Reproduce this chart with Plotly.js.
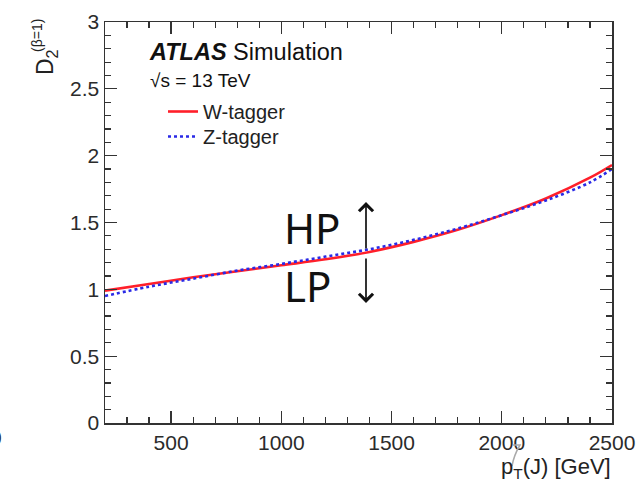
<!DOCTYPE html>
<html>
<head>
<meta charset="utf-8">
<script src="https://cdn.plot.ly/plotly-3.0.1.min.js"></script>
<style>html,body{margin:0;padding:0;background:#fff;}#chart{width:641px;height:484px;}</style>
</head>
<body>
<div id="chart"></div>
<script>
// Data
const ptValues = [200, 400, 600, 800, 1000, 1200, 1400, 1600, 1800, 2000, 2200, 2400, 2500];
const wTagger  = [0.99, 1.04, 1.09, 1.135, 1.18, 1.225, 1.28, 1.355, 1.445, 1.555, 1.68, 1.835, 1.93];
const zTagger  = [0.95, 1.02, 1.08, 1.14, 1.19, 1.245, 1.30, 1.37, 1.455, 1.555, 1.665, 1.80, 1.90];
const seriesNames = ["W-tagger", "Z-tagger"];
const xRange = [200, 2500];
const yRange = [0, 3];

// Layout geometry helpers (pixel -> paper)
const L = 105, R = 612, T = 22, B = 423;
const px = v => (v - L) / (R - L);
const py = v => (B - v) / (B - T);

const font = "'Liberation Sans', Arial, Helvetica, sans-serif";

const traces = [
  {x: ptValues, y: wTagger, name: seriesNames[0], type: "scatter", mode: "lines", legend: "legend",
   line: {color: "#ff1f2a", width: 2.6, shape: "spline", smoothing: 1}},
  {x: ptValues, y: zTagger, name: seriesNames[1], type: "scatter", mode: "lines", legend: "legend2",
   line: {color: "#2a2ae6", width: 2.6, dash: "dot", shape: "spline", smoothing: 1}}
];

const axisCommon = {
  showgrid: false, zeroline: false, showline: true, linecolor: "#333", linewidth: 1.5,
  mirror: "allticks", ticks: "inside", tickcolor: "#333", tickwidth: 1.3, ticklen: 12,
  tickfont: {family: font, size: 21, color: "#2b2b2b"}
};

const legendCommon = {xanchor: "left", yanchor: "top", bgcolor: "rgba(0,0,0,0)",
  font: {family: font, size: 20, color: "#222"}, itemwidth: 30};

const layout = {
  width: 641, height: 484,
  margin: {l: L, r: 641 - R, t: T, b: 484 - B},
  paper_bgcolor: "#fff", plot_bgcolor: "#fff",
  showlegend: true,
  legend: Object.assign({x: px(163), y: py(92)}, legendCommon),
  legend2: Object.assign({x: px(163), y: py(117)}, legendCommon),
  xaxis: Object.assign({}, axisCommon, {range: xRange, tick0: 0, dtick: 500,
    minor: {dtick: 100, ticks: "inside", ticklen: 6, tickcolor: "#333", tickwidth: 1.2}}),
  yaxis: Object.assign({}, axisCommon, {range: yRange, tick0: 0, dtick: 0.5,
    minor: {dtick: 0.1, ticks: "inside", ticklen: 6, tickcolor: "#333", tickwidth: 1.2}}),
  annotations: [
    {xref: "paper", yref: "paper", x: px(147), y: py(52), xanchor: "left", yanchor: "middle",
     text: "<b><i>ATLAS</i></b> Simulation", showarrow: false,
     font: {family: font, size: 23.5, color: "#111"}},
    {xref: "paper", yref: "paper", x: px(148), y: py(80), xanchor: "left", yanchor: "middle",
     text: "√s = 13 TeV", showarrow: false,
     font: {family: font, size: 19, color: "#111"}},
    {xref: "paper", yref: "paper", x: px(613), y: py(468), xanchor: "right", yanchor: "middle",
     text: "p<sub>T</sub>(J) [GeV]", showarrow: false,
     font: {family: font, size: 22, color: "#222"}},
    {xref: "paper", yref: "paper", x: px(46), y: py(62), xanchor: "center", yanchor: "middle",
     text: "D<sub>2</sub>", textangle: -90, showarrow: false,
     font: {family: font, size: 23, color: "#222"}},
    {xref: "paper", yref: "paper", x: px(37), y: py(36), xanchor: "center", yanchor: "middle",
     text: "(β=1)", textangle: -90, showarrow: false,
     font: {family: font, size: 14, color: "#222"}},
    {xref: "paper", yref: "paper", x: px(-4), y: py(437), xanchor: "center", yanchor: "middle",
     text: "0", showarrow: false,
     font: {family: font, size: 21, color: "#2b2b2b"}},
    {xref: "paper", yref: "paper", x: px(312), y: py(227), xanchor: "center", yanchor: "middle",
     text: "HP", showarrow: false,
     font: {family: "'Noto Sans', 'Open Sans', sans-serif", size: 42, color: "#111"}},
    {xref: "paper", yref: "paper", x: px(307), y: py(285), xanchor: "center", yanchor: "middle",
     text: "LP", showarrow: false,
     font: {family: "'Noto Sans', 'Open Sans', sans-serif", size: 42, color: "#111"}},
    {xref: "paper", yref: "paper", x: px(366), y: py(202), ax: px(366), ay: py(250),
     axref: "paper", ayref: "paper", text: "", showarrow: true,
     arrowhead: 4, arrowsize: 1.6, arrowwidth: 1.7, arrowcolor: "#111"},
    {xref: "paper", yref: "paper", x: px(366), y: py(303), ax: px(366), ay: py(257),
     axref: "paper", ayref: "paper", text: "", showarrow: true,
     arrowhead: 4, arrowsize: 1.6, arrowwidth: 1.7, arrowcolor: "#111"}
  ],
  shapes: [
    {type: "path", xref: "paper", yref: "paper",
     path: "M" + px(513) + "," + py(445) + " L" + px(520) + "," + py(445) + " Q" + px(514) + "," + py(455) + " " + px(512) + "," + py(466),
     line: {color: "#aaa", width: 1.5}}
  ]
};

Plotly.newPlot("chart", traces, layout, {staticPlot: true, displayModeBar: false});
</script>
</body>
</html>
